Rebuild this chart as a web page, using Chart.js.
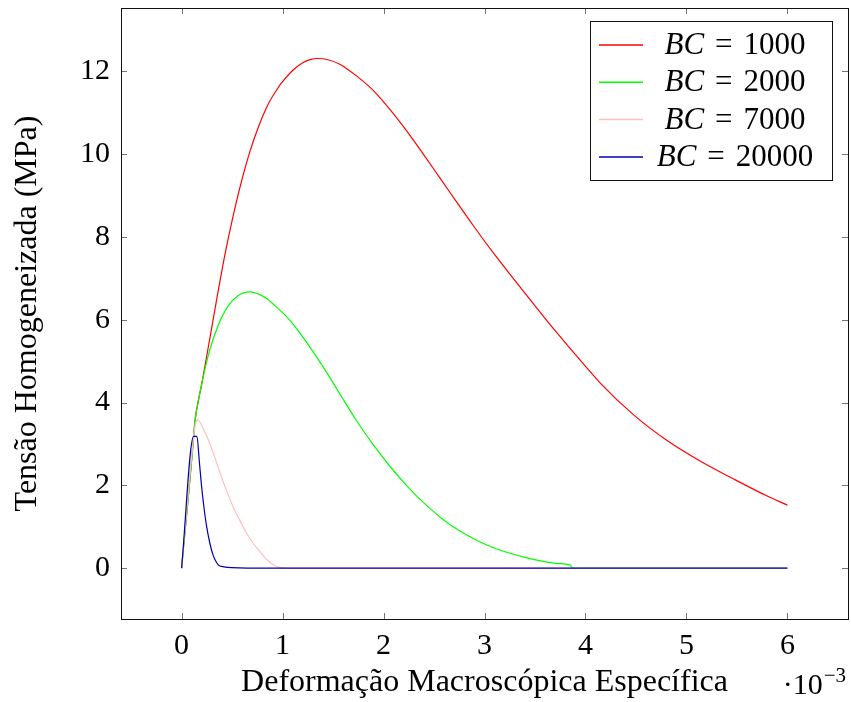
<!DOCTYPE html>
<html>
<head>
<meta charset="utf-8">
<script src="https://cdn.jsdelivr.net/npm/chart.js@4.4.1/dist/chart.umd.min.js"></script>
<style>
  html, body { margin: 0; padding: 0; background: #fff; }
  #wrap { width: 851px; height: 702px; position: relative; }
</style>
</head>
<body>
<div id="wrap"><canvas id="chart"></canvas></div>
<script>
// strain is given in units of 10^-3
const xTicks = [0, 1, 2, 3, 4, 5, 6];
const yTicks = [0, 2, 4, 6, 8, 10, 12];
const seriesLabels = ["1000", "2000", "7000", "20000"];
const seriesColors = ["#ff0000", "#00ff00", "#ffbfbf", "#0000b3"];

const redX = [0, 0.12, 0.13, 0.2, 0.28, 0.36, 0.433, 0.509, 0.592, 0.675, 0.76, 0.856, 0.96, 1.0, 1.1, 1.2, 1.28, 1.352, 1.45, 1.567, 1.65, 1.733, 1.898, 2.063, 2.229, 2.394, 2.56, 2.725, 2.89, 3.082, 3.3, 3.485, 3.65, 3.816, 4.147, 4.477, 4.808, 5.139, 5.469, 5.8, 6.0];
const redY = [0, 3.18, 3.5, 4.45, 5.55, 6.66, 7.62, 8.49, 9.33, 10.05, 10.65, 11.2, 11.62, 11.75, 12.02, 12.21, 12.29, 12.31, 12.28, 12.17, 12.04, 11.89, 11.54, 11.08, 10.56, 10.0, 9.42, 8.84, 8.27, 7.63, 6.95, 6.38, 5.88, 5.40, 4.47, 3.70, 3.08, 2.58, 2.15, 1.74, 1.52];

const greenX = [0, 0.12, 0.13, 0.16, 0.195, 0.278, 0.36, 0.46, 0.559, 0.675, 0.78, 0.85, 0.906, 1.0, 1.071, 1.15, 1.237, 1.402, 1.567, 1.733, 1.898, 2.063, 2.245, 2.41, 2.576, 2.74, 2.907, 3.07, 3.237, 3.4, 3.568, 3.72, 3.85, 3.87, 6.0];
const greenY = [0, 3.18, 3.5, 3.95, 4.4, 5.26, 5.85, 6.33, 6.58, 6.67, 6.6, 6.5, 6.38, 6.17, 5.99, 5.75, 5.46, 4.86, 4.21, 3.56, 2.98, 2.46, 1.95, 1.55, 1.20, 0.92, 0.69, 0.51, 0.37, 0.26, 0.17, 0.11, 0.07, 0.0, 0.0];

const pinkX = [0, 0.12, 0.14, 0.162, 0.212, 0.262, 0.311, 0.36, 0.41, 0.46, 0.52, 0.58, 0.64, 0.70, 0.757, 0.82, 0.88, 0.93, 0.972, 1.05, 6.0];
const pinkY = [0, 3.18, 3.5, 3.58, 3.38, 3.12, 2.8, 2.45, 2.1, 1.78, 1.43, 1.14, 0.86, 0.63, 0.45, 0.27, 0.13, 0.05, 0.01, 0, 0];

const blueX = [0, 0.119, 0.152, 0.175, 0.195, 0.22, 0.245, 0.28, 0.311, 0.345, 0.371, 0.42, 0.5, 0.65, 6.0];
const blueY = [0, 3.18, 3.18, 2.6, 2.05, 1.5, 1.05, 0.6, 0.32, 0.14, 0.06, 0.03, 0.01, 0, 0];

const serif = '"Liberation Serif", "DejaVu Serif", serif';

function toPoints(xs, ys) {
  return xs.map((x, i) => ({ x: x, y: ys[i] }));
}

function makeSet(i, xs, ys) {
  return {
    label: "BC = " + seriesLabels[i],
    data: toPoints(xs, ys),
    borderColor: seriesColors[i],
    backgroundColor: seriesColors[i],
    borderWidth: 1.2,
    pointRadius: 0,
    showLine: true,
    cubicInterpolationMode: "monotone",
    order: 4 - i // later series drawn on top, like pgfplots
  };
}

// frame and inward ticks on all four sides
const framePlugin = {
  id: "frame",
  afterDatasetsDraw(chart) {
    const ctx = chart.ctx;
    const a = chart.chartArea;
    const xs = chart.scales.x, ys = chart.scales.y;
    const len = 6;
    ctx.save();
    ctx.strokeStyle = "rgba(0,0,0,0.55)";
    ctx.lineWidth = 1;
    ctx.beginPath();
    xTicks.forEach((v) => {
      const px = Math.round(xs.getPixelForValue(v)) + 0.5;
      ctx.moveTo(px, a.bottom); ctx.lineTo(px, a.bottom - len);
      ctx.moveTo(px, a.top); ctx.lineTo(px, a.top + len);
    });
    yTicks.forEach((v) => {
      const py = Math.round(ys.getPixelForValue(v)) + 0.5;
      ctx.moveTo(a.left, py); ctx.lineTo(a.left + len, py);
      ctx.moveTo(a.right, py); ctx.lineTo(a.right - len, py);
    });
    ctx.stroke();
    ctx.strokeStyle = "#111";
    ctx.strokeRect(Math.round(a.left) + 0.5, Math.round(a.top) + 0.5,
      Math.round(a.right - a.left), Math.round(a.bottom - a.top));
    ctx.restore();
  }
};

// legend with italic BC, like the LaTeX math
const legendPlugin = {
  id: "bcLegend",
  afterDraw(chart) {
    const ctx = chart.ctx;
    const a = chart.chartArea;
    const w = 242, h = 159;
    const x0 = Math.round(a.right - 16 - w), y0 = Math.round(a.top + 13);
    const cx = x0 + 145;
    ctx.save();
    ctx.fillStyle = "#fff";
    ctx.fillRect(x0, y0, w, h);
    ctx.strokeStyle = "#111";
    ctx.lineWidth = 1;
    ctx.strokeRect(x0 + 0.5, y0 + 0.5, w, h);
    ctx.textBaseline = "middle";
    ctx.fillStyle = "#000";
    seriesLabels.forEach((lab, i) => {
      const cy = y0 + 24 + i * 37.3;
      ctx.strokeStyle = seriesColors[i];
      ctx.lineWidth = 1.5;
      ctx.beginPath();
      ctx.moveTo(x0 + 9, cy); ctx.lineTo(x0 + 53, cy);
      ctx.stroke();
      const gap = 11;
      ctx.font = "italic 31px " + serif;
      const w1 = ctx.measureText("BC").width;
      ctx.font = "31px " + serif;
      const w2 = ctx.measureText("=").width;
      const w3 = ctx.measureText(lab).width;
      let tx = cx - (w1 + w2 + w3 + 2 * gap) / 2;
      ctx.font = "italic 31px " + serif;
      ctx.fillText("BC", tx, cy + 1);
      tx += w1 + gap;
      ctx.font = "31px " + serif;
      ctx.fillText("=", tx, cy + 1);
      tx += w2 + gap;
      ctx.fillText(lab, tx, cy + 1);
    });
    ctx.restore();
  }
};

// the "·10^-3" multiplier under the right end of the x axis
const scalePlugin = {
  id: "xMultiplier",
  afterDraw(chart) {
    const ctx = chart.ctx;
    ctx.save();
    ctx.fillStyle = "#000";
    ctx.textBaseline = "alphabetic";
    ctx.font = "21px " + serif;
    const sup = "\u22123";
    const ws = ctx.measureText(sup).width;
    const right = 846;
    ctx.fillText(sup, right - ws, 682);
    ctx.font = "30px " + serif;
    const base = "\u00b710";
    const wb = ctx.measureText(base).width;
    ctx.fillText(base, right - ws - wb - 1, 694);
    ctx.restore();
  }
};

new Chart(document.getElementById("chart"), {
  type: "scatter",
  data: {
    datasets: [
      makeSet(0, redX, redY),
      makeSet(1, greenX, greenY),
      makeSet(2, pinkX, pinkY),
      makeSet(3, blueX, blueY)
    ]
  },
  options: {
    responsive: true,
    maintainAspectRatio: false,
    animation: false,
    layout: { padding: { top: 8, right: 3, bottom: 0, left: 0 } },
    plugins: {
      legend: { display: false },
      tooltip: { enabled: false }
    },
    scales: {
      x: {
        type: "linear",
        min: -0.6,
        max: 6.6,
        afterBuildTicks: (scale) => { scale.ticks = xTicks.map((v) => ({ value: v })); },
        afterFit: (scale) => {
          scale.height = 83;
          scale.paddingLeft = 0;
          scale.paddingRight = 0;
        },
        grid: { display: false, drawTicks: false },
        border: { display: false },
        ticks: {
          padding: 9,
          color: "#000",
          font: { family: serif, size: 30 },
          maxRotation: 0,
          callback: (v) => v
        },
        title: {
          display: true,
          text: "Deformação Macroscópica Específica",
          color: "#000",
          font: { family: serif, size: 32 },
          padding: { top: 0, bottom: 0 }
        }
      },
      y: {
        type: "linear",
        min: -1.23,
        max: 13.53,
        afterBuildTicks: (scale) => { scale.ticks = yTicks.map((v) => ({ value: v })); },
        afterFit: (scale) => {
          scale.width = 121;
          scale.paddingTop = 0;
          scale.paddingBottom = 0;
        },
        grid: { display: false, drawTicks: false },
        border: { display: false },
        ticks: {
          padding: 11,
          color: "#000",
          font: { family: serif, size: 30 },
          callback: (v) => v
        },
        title: {
          display: true,
          text: "Tensão Homogeneizada (MPa)",
          color: "#000",
          font: { family: serif, size: 32 },
          padding: { top: 8, bottom: 0 }
        }
      }
    }
  },
  plugins: [framePlugin, legendPlugin, scalePlugin]
});
</script>
</body>
</html>
